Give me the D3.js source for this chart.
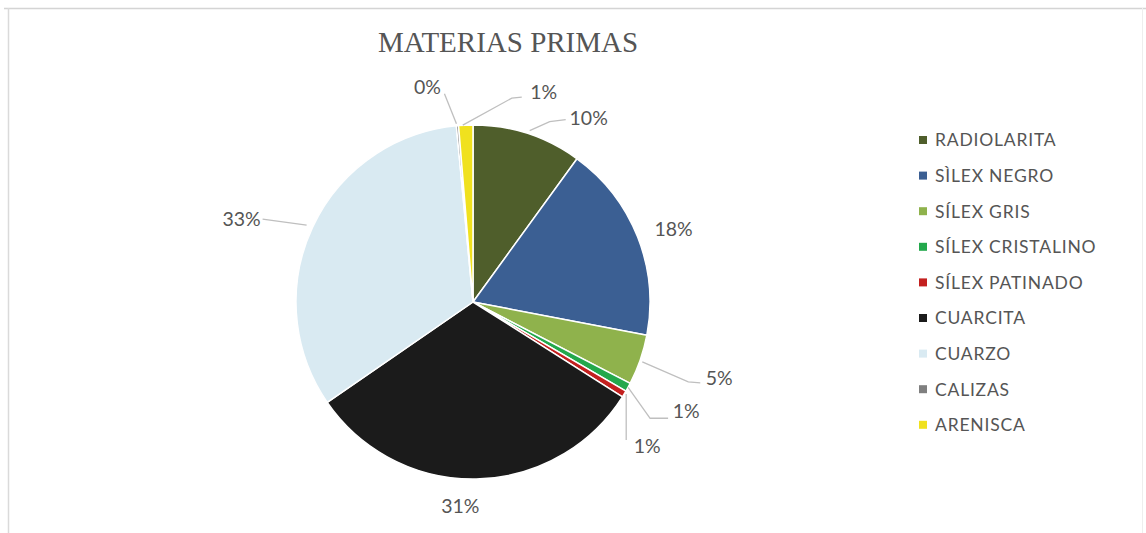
<!DOCTYPE html>
<html>
<head>
<meta charset="utf-8">
<script src="https://cdn.jsdelivr.net/npm/d3@7"></script>
<style>
  html, body { margin: 0; padding: 0; background: #fff; }
  svg { display: block; }
</style>
</head>
<body>
<svg id="chart" width="1146" height="533"></svg>
<script>
// Raw-material shares (percent of the assemblage)
const categories = ["RADIOLARITA", "SÌLEX NEGRO", "SÍLEX GRIS", "SÍLEX CRISTALINO", "SÍLEX PATINADO", "CUARCITA", "CUARZO", "CALIZAS", "ARENISCA"];
const values = [10, 18, 4.6, 0.8, 0.6, 31.4, 33.1, 0.2, 1.3];
const colors = ["#4f5e2b", "#3b5f93", "#8fb24c", "#23a84c", "#c3201f", "#1b1b1b", "#d9eaf2", "#7f7f7f", "#f0e11e"];
const title = "MATERIAS PRIMAS";

// Label placement relative to the point on the rim at each slice's mid-angle
const labelOffsets = [[61, -16], [36, -8], [79, 18], [58, 24], [23, 52], [-16, 27], [-71, -8], [-30, -39], [78, -33]];
const leaderPaths = [
  [[2, -3], [22, -12], [38, -14]],
  null,
  [[2, 2], [48, 22], [60, 23]],
  [[0, 0], [22, 31], [40, 31]],
  [[2, 0], [2, 46]],
  null,
  [[-6, -2], [-50, -8]],
  [[-1, -2], [-13, -32]],
  [[-3, 0], [46, -27], [56, -28]]
];

const svg = d3.select("#chart");
const W = 1146, H = 533;
const cx = 473, cy = 302, R = 177;
const grey = "#555555";

// Chart frame
svg.append("rect").attr("x", 0).attr("y", 0).attr("width", W).attr("height", H).attr("fill", "#fff");
svg.append("line").attr("x1", 4).attr("x2", W).attr("y1", 8.5).attr("y2", 8.5).attr("stroke", "#d4d4d4").attr("stroke-width", 1.5);
svg.append("line").attr("x1", 8.5).attr("x2", 8.5).attr("y1", 8).attr("y2", H).attr("stroke", "#dadada").attr("stroke-width", 1.5);
svg.append("line").attr("x1", 1142.5).attr("x2", 1142.5).attr("y1", 8).attr("y2", H).attr("stroke", "#eeeeee").attr("stroke-width", 1);

// Title
svg.append("text")
  .attr("x", 508).attr("y", 52)
  .attr("text-anchor", "middle")
  .attr("font-family", "'Liberation Serif', 'Times New Roman', serif")
  .attr("font-size", 29)
  .attr("fill", grey)
  .text(title);

const data = categories.map((c, i) => ({ name: c, value: values[i], color: colors[i], idx: i }));
const total = d3.sum(values);

const pie = d3.pie().sort(null).value(d => d.value);
const arcs = pie(data);
const arc = d3.arc().innerRadius(0).outerRadius(R);

const g = svg.append("g").attr("transform", `translate(${cx},${cy})`);
g.selectAll("path.slice")
  .data(arcs)
  .enter().append("path")
  .attr("class", "slice")
  .attr("d", arc)
  .attr("fill", d => d.data.color)
  .attr("stroke", "#fff")
  .attr("stroke-width", 1.5)
  .attr("stroke-linejoin", "round");

// Rim point at the middle angle of a slice
function rim(d) {
  const a = (d.startAngle + d.endAngle) / 2;
  return [R * Math.sin(a), -R * Math.cos(a)];
}

const lab = svg.append("g").attr("transform", `translate(${cx},${cy})`);
arcs.forEach((d, i) => {
  const p = rim(d);
  const lp = leaderPaths[i];
  if (lp) {
    const pts = lp.map(o => [p[0] + o[0], p[1] + o[1]]);
    lab.append("path")
      .attr("d", d3.line()(pts))
      .attr("fill", "none")
      .attr("stroke", "#bfbfbf")
      .attr("stroke-width", 1.3);
  }
  const o = labelOffsets[i];
  lab.append("text")
    .attr("x", p[0] + o[0])
    .attr("y", p[1] + o[1])
    .attr("dy", "0.35em")
    .attr("text-anchor", "middle")
    .attr("font-family", "Lato, 'Open Sans', sans-serif")
    .attr("font-size", 19.5)
    .attr("fill", grey)
    .text(Math.round(d.data.value / total * 100) + "%");
});

// Legend
const legend = svg.append("g").attr("transform", "translate(919,140)");
const rowH = 35.6;
const rows = legend.selectAll("g.row")
  .data(data)
  .enter().append("g")
  .attr("class", "row")
  .attr("transform", (d, i) => `translate(0,${i * rowH})`);
rows.append("rect")
  .attr("x", 0).attr("y", -4)
  .attr("width", 8).attr("height", 8)
  .attr("fill", d => d.color);
rows.append("text")
  .attr("x", 16).attr("y", 0)
  .attr("dy", "0.36em")
  .attr("font-family", "Lato, 'Open Sans', sans-serif")
  .attr("font-size", 17.5)
  .attr("letter-spacing", 0.8)
  .attr("fill", grey)
  .text(d => d.name);
</script>
</body>
</html>
